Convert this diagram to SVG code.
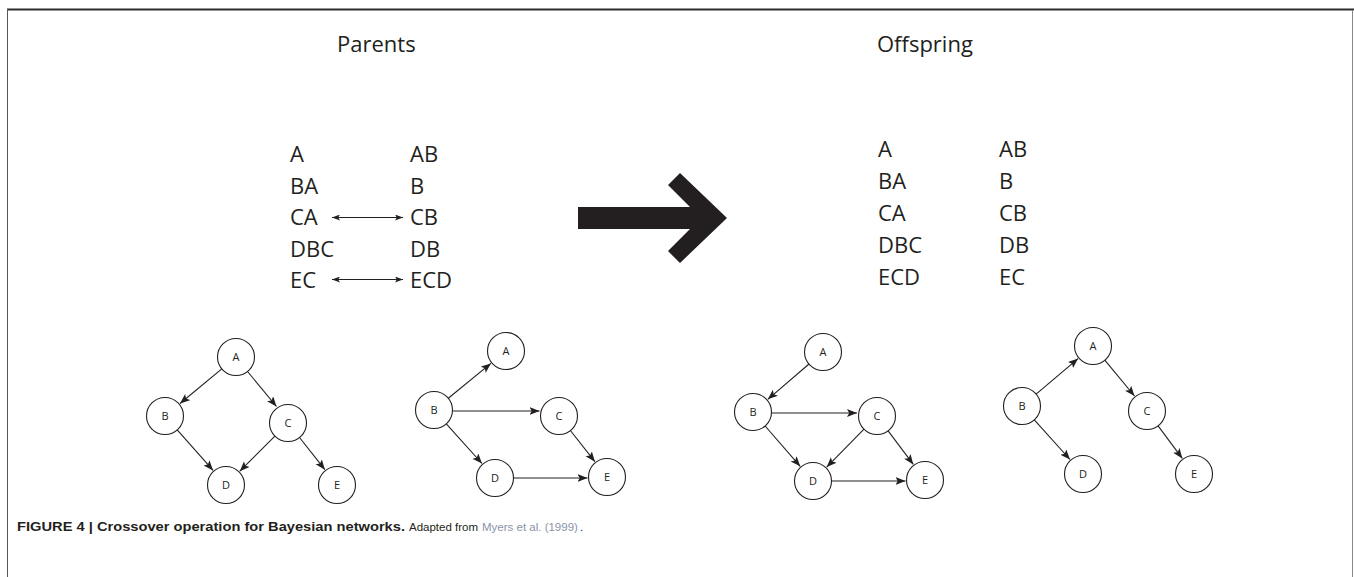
<svg xmlns="http://www.w3.org/2000/svg" width="1354" height="577" viewBox="0 0 1354 577">
<style>
.t{font-family:"Open Sans","Noto Sans",sans-serif;fill:#231f20}
.big{font-size:22px}
.ttl{font-size:22px}
.nl{font-size:11px;text-anchor:middle}
.nd{fill:#fff;stroke:#231f20;stroke-width:1.1}
.e{stroke:#231f20;stroke-width:1.1;fill:none;marker-end:url(#ah)}
.d{stroke:#231f20;stroke-width:1.1;fill:none;marker-end:url(#ah2);marker-start:url(#ah2s)}
.cap{font-family:"Liberation Sans",Arial,sans-serif;font-size:13px}
.cap2{font-family:"Liberation Sans",Arial,sans-serif;font-size:11.5px}
</style>
<defs>
<marker id="ah" markerUnits="userSpaceOnUse" markerWidth="11" markerHeight="9" refX="10" refY="4" orient="auto">
<path d="M0,0 L10,4 L0,8 L2.2,4 z" fill="#231f20"/>
</marker>
<marker id="ah2" markerUnits="userSpaceOnUse" markerWidth="9" markerHeight="7" refX="8" refY="3" orient="auto">
<path d="M0,0 L8,3 L0,6 L1.8,3 z" fill="#231f20"/>
</marker>
<marker id="ah2s" markerUnits="userSpaceOnUse" markerWidth="9" markerHeight="7" refX="0" refY="3" orient="auto">
<path d="M8,0 L0,3 L8,6 L6.2,3 z" fill="#231f20"/>
</marker>
</defs>
<rect width="1354" height="577" fill="#fff"/>
<g id="frame">
<line x1="7" y1="9.5" x2="1354" y2="9.5" stroke="#2b2b2b" stroke-width="2"/>
<line x1="7.5" y1="9" x2="7.5" y2="577" stroke="#555" stroke-width="1"/>
<line x1="1352.5" y1="10" x2="1352.5" y2="577" stroke="#888" stroke-width="1"/>
</g>
<g id="titles">
<text class="t ttl" x="337" y="52">Parents</text>
<text class="t ttl" x="877" y="52">Offspring</text>
</g>
<g id="parents-list">
<text class="t big" x="290" y="162">A</text>
<text class="t big" x="290" y="193.5">BA</text>
<text class="t big" x="290" y="225">CA</text>
<text class="t big" x="290" y="256.5">DBC</text>
<text class="t big" x="290" y="288">EC</text>
<text class="t big" x="410" y="162">AB</text>
<text class="t big" x="410" y="193.5">B</text>
<text class="t big" x="410" y="225">CB</text>
<text class="t big" x="410" y="256.5">DB</text>
<text class="t big" x="410" y="288">ECD</text>
</g>
<g id="offspring-list">
<text class="t big" x="878" y="157">A</text>
<text class="t big" x="878" y="189">BA</text>
<text class="t big" x="878" y="221">CA</text>
<text class="t big" x="878" y="253">DBC</text>
<text class="t big" x="878" y="285">ECD</text>
<text class="t big" x="999" y="157">AB</text>
<text class="t big" x="999" y="189">B</text>
<text class="t big" x="999" y="221">CB</text>
<text class="t big" x="999" y="253">DB</text>
<text class="t big" x="999" y="285">EC</text>
</g>
<g id="big-arrow">
<polygon points="578,207 690,207 668,185 680,173 727,218 680,263 668,251 690,229 578,229" fill="#231f20"/>
</g>
<g id="connectors">
<line class="d" x1="332" y1="217.5" x2="403" y2="217.5"/>
<line class="d" x1="332" y1="279.5" x2="403" y2="279.5"/>
<line class="e" x1="221.8" y1="368.8" x2="180" y2="403.5"/>
<line class="e" x1="247.5" y1="371.5" x2="276.5" y2="406.5"/>
<line class="e" x1="177.2" y1="429.9" x2="213.1" y2="470.4"/>
<line class="e" x1="274.9" y1="436.1" x2="239.8" y2="471.2"/>
<line class="e" x1="299.5" y1="437.5" x2="324.9" y2="469.7"/>
<line class="e" x1="448.3" y1="398.3" x2="490.9" y2="363.4"/>
<line class="e" x1="453" y1="411" x2="539.5" y2="411"/>
<line class="e" x1="446.3" y1="423.8" x2="482" y2="463.5"/>
<line class="e" x1="570.4" y1="430.5" x2="594.9" y2="461.7"/>
<line class="e" x1="513.5" y1="478" x2="587.5" y2="478"/>
<line class="e" x1="809" y1="364" x2="767.8" y2="399.3"/>
<line class="e" x1="771.5" y1="413" x2="857" y2="413"/>
<line class="e" x1="765.1" y1="426" x2="800.2" y2="466.3"/>
<line class="e" x1="864" y1="429.2" x2="826.7" y2="467.1"/>
<line class="e" x1="888.1" y1="430.8" x2="913.3" y2="464.4"/>
<line class="e" x1="831.5" y1="481" x2="905.5" y2="481"/>
<line class="e" x1="1036.1" y1="394.1" x2="1078.1" y2="358.6"/>
<line class="e" x1="1104.8" y1="360.2" x2="1134.5" y2="396"/>
<line class="e" x1="1034.3" y1="419.8" x2="1070" y2="459.5"/>
<line class="e" x1="1158.1" y1="425.8" x2="1182.3" y2="458.4"/>
</g>
<g id="g1-A"><circle class="nd" cx="236" cy="357" r="18.5"/><text class="t nl" x="236" y="361">A</text></g>
<g id="g1-B"><circle class="nd" cx="165" cy="416" r="18.5"/><text class="t nl" x="165" y="420">B</text></g>
<g id="g1-C"><circle class="nd" cx="288" cy="423" r="18.5"/><text class="t nl" x="288" y="427">C</text></g>
<g id="g1-D"><circle class="nd" cx="226" cy="485" r="18.5"/><text class="t nl" x="226" y="489">D</text></g>
<g id="g1-E"><circle class="nd" cx="337" cy="485" r="18.5"/><text class="t nl" x="337" y="489">E</text></g>
<g id="g2-A"><circle class="nd" cx="506" cy="351" r="18.5"/><text class="t nl" x="506" y="355">A</text></g>
<g id="g2-B"><circle class="nd" cx="434" cy="410" r="18.5"/><text class="t nl" x="434" y="414">B</text></g>
<g id="g2-C"><circle class="nd" cx="559" cy="416" r="18.5"/><text class="t nl" x="559" y="420">C</text></g>
<g id="g2-D"><circle class="nd" cx="495" cy="478" r="18.5"/><text class="t nl" x="495" y="482">D</text></g>
<g id="g2-E"><circle class="nd" cx="607" cy="477" r="18.5"/><text class="t nl" x="607" y="481">E</text></g>
<g id="g3-A"><circle class="nd" cx="823" cy="352" r="18.5"/><text class="t nl" x="823" y="356">A</text></g>
<g id="g3-B"><circle class="nd" cx="753" cy="412" r="18.5"/><text class="t nl" x="753" y="416">B</text></g>
<g id="g3-C"><circle class="nd" cx="877" cy="416" r="18.5"/><text class="t nl" x="877" y="420">C</text></g>
<g id="g3-D"><circle class="nd" cx="813" cy="481" r="18.5"/><text class="t nl" x="813" y="485">D</text></g>
<g id="g3-E"><circle class="nd" cx="925" cy="480" r="18.5"/><text class="t nl" x="925" y="484">E</text></g>
<g id="g4-A"><circle class="nd" cx="1093" cy="346" r="18.5"/><text class="t nl" x="1093" y="350">A</text></g>
<g id="g4-B"><circle class="nd" cx="1022" cy="406" r="18.5"/><text class="t nl" x="1022" y="410">B</text></g>
<g id="g4-C"><circle class="nd" cx="1147" cy="411" r="18.5"/><text class="t nl" x="1147" y="415">C</text></g>
<g id="g4-D"><circle class="nd" cx="1083" cy="474" r="18.5"/><text class="t nl" x="1083" y="478">D</text></g>
<g id="g4-E"><circle class="nd" cx="1194" cy="474" r="18.5"/><text class="t nl" x="1194" y="478">E</text></g>
<g id="caption">
<text class="cap" x="17" y="531" fill="#231f20" font-weight="bold" textLength="388" lengthAdjust="spacingAndGlyphs">FIGURE 4 | Crossover operation for Bayesian networks.</text>
<text class="cap2" x="409" y="531" fill="#231f20">Adapted from</text>
<text class="cap2" x="482" y="531" fill="#8a93a8">Myers et al. (1999)</text>
<text class="cap2" x="580" y="531" fill="#231f20">.</text>
</g>
</svg>
